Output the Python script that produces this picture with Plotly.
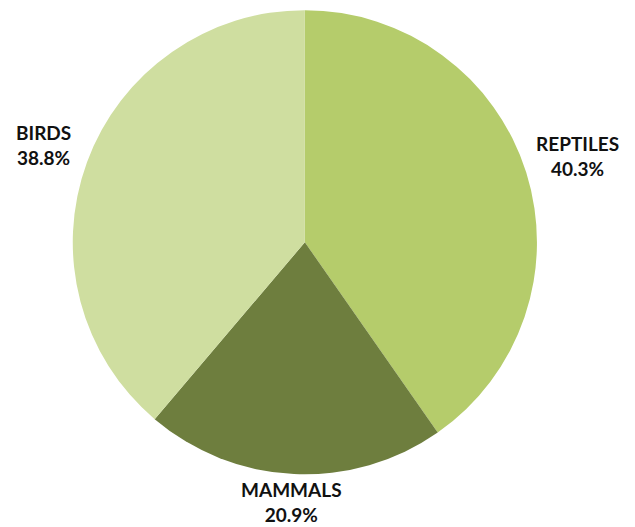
import plotly.graph_objects as go

labels = ["REPTILES", "MAMMALS", "BIRDS"]
values = [40.3, 20.9, 38.8]
colors = ["#b5cc6b", "#6e7e3e", "#cfdea0"]

# label anchor positions (paper coords) - layout only
label_pos = {"REPTILES": (0.897, 0.720), "MAMMALS": (0.446, 0.062), "BIRDS": (0.056, 0.740)}

fig = go.Figure(go.Pie(
    labels=labels,
    values=values,
    sort=False,
    direction="clockwise",
    rotation=0,
    marker=dict(colors=colors, line=dict(width=0)),
    textinfo="none",
    domain=dict(x=[0.102, 0.833], y=[0.115, 0.996]),
    showlegend=False,
    hoverinfo="label+value",
))

total = sum(values)
for lab, val in zip(labels, values):
    x, y = label_pos[lab]
    fig.add_annotation(
        x=x, y=y, xref="paper", yref="paper",
        text=f"<b>{lab}</b><br><b>{val / total * 100:.1f}%</b>",
        showarrow=False, xanchor="center", yanchor="middle", align="center",
        font=dict(family="Lato", size=19, color="#111111", weight=900),
    )

fig.update_layout(
    width=635, height=527,
    margin=dict(l=0, r=0, t=0, b=0),
    paper_bgcolor="white",
    plot_bgcolor="white",
)

fig.write_html("out.html")
